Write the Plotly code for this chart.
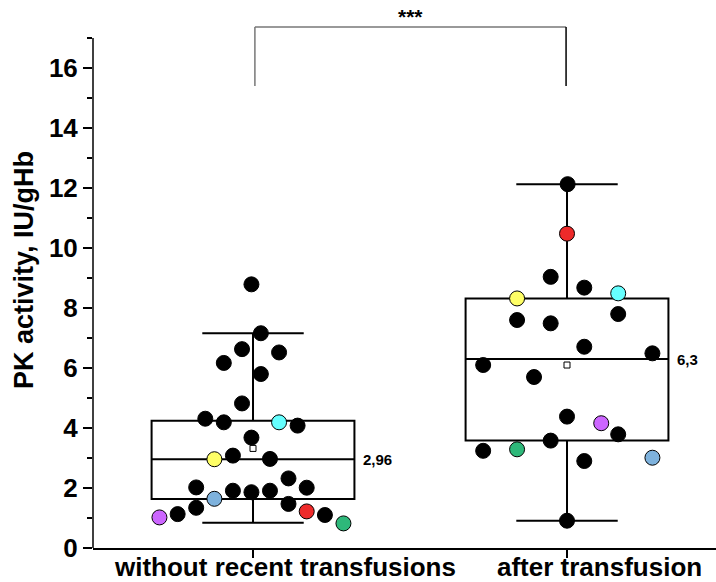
import plotly.graph_objects as go

# ---------------- data ----------------
categories = ["without recent transfusions", "after transfusion"]
cat_pos = [1, 2]

# box statistics
q1 = [1.63, 3.58]
median = [2.96, 6.30]
q3 = [4.24, 8.32]
lower_whisker = [0.84, 0.91]
upper_whisker = [7.16, 12.13]
means = [3.32, 6.10]
median_labels = ["2,96", "6,3"]

# individual patients: group 1 (without recent transfusions)
g1_values = [8.79, 7.16, 6.63, 6.52, 6.17, 5.80, 4.82, 4.31, 4.19, 4.19, 4.08,
             3.68, 2.96, 3.08, 2.97, 2.32, 2.02, 2.01, 1.91, 1.86, 1.91, 1.64,
             1.34, 1.47, 1.13, 1.02, 1.22, 1.10, 0.82]
g1_jitter = [-0.005, 0.025, -0.035, 0.083, -0.093, 0.025, -0.035, -0.152, -0.093, 0.083, 0.142,
             -0.005, -0.123, -0.064, 0.054, 0.113, -0.181, 0.171, -0.064, -0.005, 0.054, -0.123,
             -0.181, 0.113, -0.240, -0.298, 0.171, 0.229, 0.288]
g1_colors = ["black", "black", "black", "black", "black", "black", "black", "black", "black", "#66FFFF", "black",
             "black", "#FFFF66", "black", "black", "black", "black", "black", "black", "black", "black", "#7EB2DD",
             "black", "black", "black", "#CC66FF", "#EE2A2A", "black", "#2EB87A"]

# group 2 (after transfusion)
g2_values = [12.13, 10.48, 9.04, 8.68, 8.32, 8.49, 7.60, 7.49, 7.80, 6.71, 6.49,
             6.10, 5.70, 4.38, 4.16, 3.79, 3.58, 3.24, 3.29, 2.90, 3.01, 0.91]
g2_jitter = [0.002, 0.0, -0.052, 0.055, -0.159, 0.163, -0.159, -0.052, 0.163, 0.055, 0.272,
             -0.267, -0.105, 0.0, 0.109, 0.163, -0.052, -0.267, -0.159, 0.055, 0.272, 0.0]
g2_colors = ["black", "#EE2A2A", "black", "black", "#FFFF66", "#66FFFF", "black", "black", "black", "black", "black",
             "black", "black", "black", "#CC66FF", "black", "black", "black", "#2EB87A", "black", "#7EB2DD", "black"]

significance = "***"
bracket_top = 17.37
bracket_bottom = 15.4
y_title = "PK activity, IU/gHb"
label_shift = 0.102   # category labels sit slightly right of their ticks

FONT = "Liberation Sans, Arial, sans-serif"

fig = go.Figure()

# boxes
for i in range(2):
    fig.add_trace(go.Box(
        x=[cat_pos[i]], q1=[q1[i]], median=[median[i]], q3=[q3[i]],
        lowerfence=[lower_whisker[i]], upperfence=[upper_whisker[i]],
        width=0.646, whiskerwidth=0.5, boxpoints=False,
        line=dict(color="black", width=2), fillcolor="rgba(0,0,0,0)",
        showlegend=False, hoverinfo="skip"))

# points
for vals, jit, cols, p in [(g1_values, g1_jitter, g1_colors, cat_pos[0]),
                           (g2_values, g2_jitter, g2_colors, cat_pos[1])]:
    fig.add_trace(go.Scatter(
        x=[p + j for j in jit], y=vals, mode="markers",
        marker=dict(size=15, color=cols, line=dict(color="black", width=1)),
        showlegend=False, cliponaxis=False))

# means
fig.add_trace(go.Scatter(
    x=cat_pos, y=means, mode="markers",
    marker=dict(symbol="square", size=6, color="white", line=dict(color="black", width=1)),
    showlegend=False))

# median labels
for i in range(2):
    fig.add_annotation(x=cat_pos[i] + 0.323, y=median[i], text="<b>%s</b>" % median_labels[i],
                       xref="x", yref="y", xanchor="left", yanchor="middle", xshift=7,
                       showarrow=False, font=dict(family=FONT, size=15, color="black"))

# category labels
for i in range(2):
    fig.add_annotation(x=cat_pos[i] + label_shift, y=0, text="<b>%s</b>" % categories[i],
                       xref="x", yref="paper", xanchor="center", yanchor="top", yshift=-2,
                       showarrow=False, font=dict(family=FONT, size=26, color="black"))

# significance bracket
fig.add_shape(type="line", x0=cat_pos[0] + 0.006, x1=cat_pos[1] - 0.003, y0=bracket_top, y1=bracket_top,
              xref="x", yref="y", line=dict(color="#777777", width=1.5))
fig.add_shape(type="line", x0=cat_pos[0] + 0.006, x1=cat_pos[0] + 0.006, y0=bracket_bottom, y1=bracket_top,
              xref="x", yref="y", line=dict(color="#777777", width=1.5))
fig.add_shape(type="line", x0=cat_pos[1] - 0.003, x1=cat_pos[1] - 0.003, y0=bracket_bottom, y1=bracket_top,
              xref="x", yref="y", line=dict(color="black", width=1.5))
fig.add_annotation(x=1.5, y=bracket_top, text="<b>%s</b>" % significance, xref="x", yref="y",
                   yanchor="bottom", showarrow=False, yshift=-3,
                   font=dict(family=FONT, size=21, color="black"))

# y axis line (ends at 17)
fig.add_shape(type="line", x0=0, x1=0, y0=0, y1=17, xref="paper", yref="y",
              line=dict(color="black", width=1.5))

# y title
fig.add_annotation(x=0, y=9.27, xref="paper", yref="y", xshift=-69, text="<b>%s</b>" % y_title,
                   textangle=-90, showarrow=False, xanchor="center", yanchor="middle",
                   font=dict(family=FONT, size=27, color="black"))

fig.update_layout(
    width=716, height=582,
    margin=dict(l=93, r=0, t=0, b=34, autoexpand=False),
    paper_bgcolor="white", plot_bgcolor="white",
    font=dict(family=FONT, color="black"),
    xaxis=dict(range=[0.4904, 2.4745], tickvals=cat_pos, showticklabels=False,
               ticks="outside", ticklen=8, tickwidth=1.5, tickcolor="black",
               showline=True, linecolor="black", linewidth=1.5, automargin=False,
               showgrid=False, zeroline=False),
    yaxis=dict(range=[0, 18.27], tickvals=[0, 2, 4, 6, 8, 10, 12, 14, 16],
               ticktext=["<b>%d</b>" % v for v in [0, 2, 4, 6, 8, 10, 12, 14, 16]],
               ticks="outside", ticklen=9, tickwidth=1.5, tickcolor="black",
               tickfont=dict(family=FONT, size=26, color="black"), automargin=False,
               minor=dict(tickvals=[1, 3, 5, 7, 9, 11, 13, 15, 17], ticks="outside",
                          ticklen=5, tickwidth=1.5, tickcolor="black", showgrid=False),
               showline=False, showgrid=False, zeroline=False),
)

fig.write_html("out.html", config={"displayModeBar": False},
               post_script="document.body.style.margin='0';document.body.style.padding='0';")
